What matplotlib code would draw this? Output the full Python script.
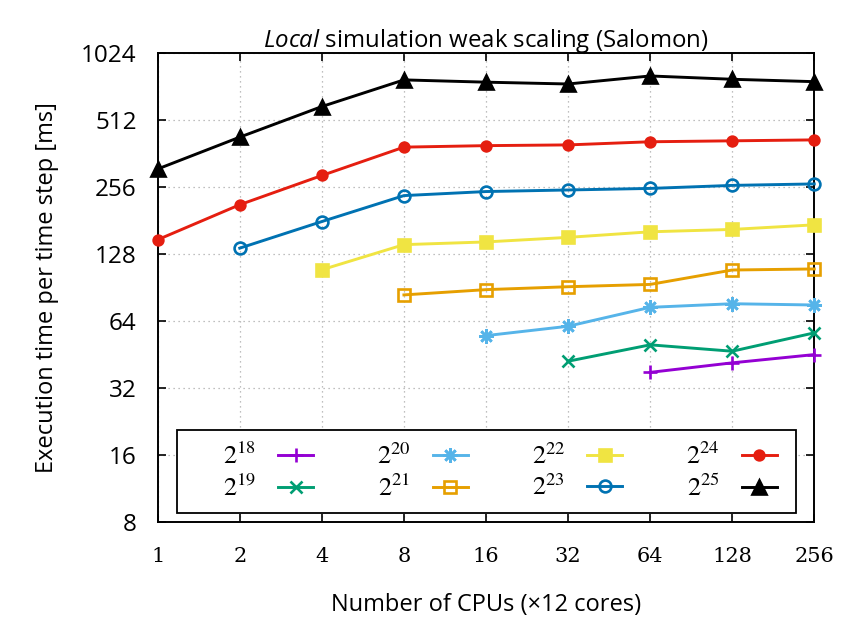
import matplotlib
matplotlib.use("Agg")
import matplotlib.pyplot as plt
from matplotlib.font_manager import FontProperties
from matplotlib.patches import Rectangle
from matplotlib.ticker import FixedLocator, FixedFormatter, NullLocator

# ---- data ----
cpus = [1, 2, 4, 8, 16, 32, 64, 128, 256]
labels_x = ["1", "2", "4", "8", "16", "32", "64", "128", "256"]
yticks = [8, 16, 32, 64, 128, 256, 512, 1024]
labels_y = ["8", "16", "32", "64", "128", "256", "512", "1024"]

sizes = ["18", "19", "20", "21", "22", "23", "24", "25"]
t18 = [37.7, 41.6, 45.3]
t19 = [42.3, 50.1, 46.9, 56.7]
t20 = [55.1, 60.7, 73.8, 76.6, 75.6]
t21 = [83.9, 88.6, 91.3, 93.5, 108.5, 109.7]
t22 = [108.8, 141, 145, 152, 161, 165, 173]
t23 = [136, 179, 234, 244, 248, 252, 260, 264]
t24 = [148.4, 213, 288, 386, 392, 395, 408, 412, 416]
t25 = [308, 428, 587, 773, 755, 741, 805, 778, 759]
series = [t18, t19, t20, t21, t22, t23, t24, t25]

colors = ["#9400D3", "#009E73", "#56B4E9", "#E69F00", "#F0E442", "#0072B2", "#E51E10", "#000000"]
markers = ["+", "x", (8, 2, 0), "s", "s", "o", "o", "^"]
mfaces = [None, None, None, "none", None, "none", None, None]
msizes = [10.5, 8.5, 10.5, 8, 8, 8.5, 7, 10.5]

plt.rcParams["mathtext.fontset"] = "custom"
plt.rcParams["mathtext.rm"] = "Open Sans"
plt.rcParams["mathtext.it"] = "Open Sans:italic"
plt.rcParams["font.family"] = ["Open Sans", "DejaVu Sans"]

fig = plt.figure(figsize=(8.67, 6.24), dpi=100)
ax = fig.add_axes([0.1819, 0.1627, 0.7573, 0.7529])

for s, vals, c, m, mf, ms in zip(sizes, series, colors, markers, mfaces, msizes):
    xs = cpus[len(cpus) - len(vals):]
    kw = dict(color=c, lw=2.1, marker=m, markersize=ms, markeredgewidth=1.9,
              label=r"$2^{%s}$" % s, clip_on=False, zorder=3)
    if mf is not None:
        kw["markerfacecolor"] = mf
    ax.plot(xs, vals, **kw)

ax.set_xscale("log", base=2)
ax.set_yscale("log", base=2)
ax.set_xlim(1, 256)
ax.set_ylim(8, 1024)
ax.xaxis.set_major_locator(FixedLocator(cpus))
ax.xaxis.set_major_formatter(FixedFormatter(labels_x))
ax.yaxis.set_major_locator(FixedLocator(yticks))
ax.yaxis.set_major_formatter(FixedFormatter(labels_y))
ax.xaxis.set_minor_locator(NullLocator())
ax.yaxis.set_minor_locator(NullLocator())

ax.tick_params(which="major", direction="in", length=6, width=1.2,
               top=True, right=True)
ax.tick_params(axis="y", labelsize=17.5, pad=15)
ax.tick_params(axis="x", labelsize=15, pad=18)
for lab in ax.get_xticklabels():
    lab.set_fontfamily("DejaVu Serif")
for sp in ax.spines.values():
    sp.set_linewidth(1.4)

ax.grid(True, which="major", linestyle=(0, (1, 3)), color="#aaaaaa", linewidth=0.9)

ax.set_xlabel("Number of CPUs (×12 cores)", fontsize=17, labelpad=19)
ax.set_ylabel("Execution time per time step [ms]", fontsize=17, labelpad=16)
ax.set_title(r"$\mathit{Local}$ simulation weak scaling (Salomon)", fontsize=17.3, pad=4)

# legend frame (gnuplot-style box)
ax.add_patch(Rectangle((0.0299, 0.0196), 0.9721 - 0.0299, 0.1969 - 0.0196,
                       transform=ax.transAxes, facecolor="white", edgecolor="black",
                       linewidth=1.3, zorder=4, clip_on=False))

leg_prop = FontProperties(family="DejaVu Serif", size=19, math_fontfamily="stix")
leg = ax.legend(ncol=4, loc="center left", bbox_to_anchor=(0.0994, 0.1081),
                markerfirst=False, prop=leg_prop, frameon=False,
                borderpad=0, borderaxespad=0, labelspacing=0.22,
                handlelength=1.33, handletextpad=0.83, columnspacing=2.42)
leg.set_zorder(5)

fig.savefig("out.png", dpi=100)
